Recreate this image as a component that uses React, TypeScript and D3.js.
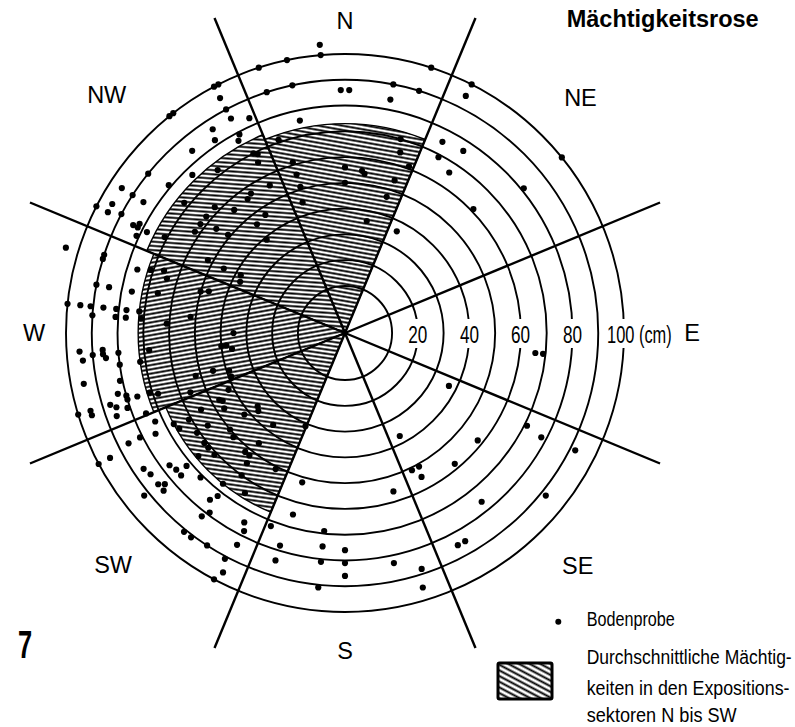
import React from 'react';
import * as d3 from 'd3';

// compass sectors and rings
const compassLabels = ['N', 'NE', 'E', 'SE', 'S', 'SW', 'W', 'NW'];
const ringValues = [10, 20, 30, 40, 50, 60, 70, 80, 90, 100];
const tickValues = [20, 40, 60, 80, 100];

// mean thickness (cm) in the exposition sectors N..SW
const meanSectors = ['N', 'NW', 'W', 'SW'];
const meanAzimuth = [0, 315, 270, 225];
const meanDepth = [73, 75, 72, 67];

// soil samples: azimuth (deg, clockwise from N) and thickness (cm)
const sampleAzimuth = [
  355, 355, 348, 342, 332, 333, 321, 322, 18, 342, 348, 359, 1, 11, 17, 11, 332, 332, 332, 336,
  327, 326, 332, 331, 348, 320, 309, 316, 310, 303, 297, 299, 297, 303, 303, 298, 297, 297, 297, 298,
  295, 287, 288, 287, 287, 281, 281, 281, 276, 276, 276, 274, 276, 276, 274, 276, 274, 276, 333, 334,
  333, 341, 343, 343, 0, 6, 7, 0, 17, 21, 18, 17, 11, 27, 343, 342, 333, 326, 322, 309,
  310, 307, 304, 314, 309, 318, 326, 321, 298, 298, 298, 299, 296, 288, 289, 287, 282, 287, 270, 276,
  273, 274, 286, 324, 310, 320, 16, 27, 27, 51, 27, 33, 28, 33, 51, 46, 96, 96, 117, 152,
  117, 118, 129, 117, 140, 154, 151, 152, 163, 141, 129, 180, 152, 150, 180, 168, 162, 180, 163, 266,
  264, 265, 266, 265, 264, 265, 262, 259, 258, 255, 254, 253, 253, 253, 252, 251, 253, 252, 250, 253,
  242, 242, 243, 243, 242, 236, 234, 231, 230, 229, 233, 231, 229, 231, 230, 225, 219, 217, 218, 218,
  219, 217, 213, 208, 207, 208, 207, 207, 208, 201, 197, 197, 196, 196, 186, 186, 186, 186, 264, 264,
  262, 265, 262, 253, 252, 249, 254, 252, 249, 241, 242, 238, 231, 230, 228, 218, 203, 242, 240, 241,
  236, 232, 230, 227, 230, 227, 218, 220, 218, 217, 230, 216, 207, 219, 212, 248, 245, 236, 242, 244,
  254,
];
const sampleDepth = [
  104, 100, 100, 100, 100, 100, 100, 100, 100, 90, 90, 86, 86, 90, 90, 84, 95, 90, 86, 83,
  86, 82, 79, 77, 76, 84, 90, 77, 81, 95, 100, 95, 95, 90, 85, 90, 84, 82, 78, 82,
  81, 105, 90, 90, 76, 90, 85, 76, 100, 95, 91, 90, 86, 81, 81, 77, 77, 72, 70, 69,
  66, 71, 61, 56, 56, 55, 54, 50, 65, 61, 54, 47, 36, 36, 51, 45, 56, 57, 72, 72,
  62, 62, 62, 62, 56, 56, 47, 46, 71, 52, 45, 38, 37, 71, 66, 64, 66, 47, 35, 52,
  61, 71, 50, 56, 51, 39, 70, 100, 95, 100, 75, 76, 69, 66, 81, 61, 66, 69, 37, 37,
  71, 78, 58, 92, 58, 51, 51, 55, 56, 76, 92, 76, 85, 85, 81, 83, 88, 86, 95, 95,
  94, 90, 86, 86, 85, 80, 80, 95, 81, 83, 80, 80, 76, 87, 85, 81, 95, 95, 86, 100,
  100, 95, 86, 81, 75, 86, 85, 85, 83, 85, 77, 76, 76, 92, 72, 71, 75, 79, 82, 72,
  91, 91, 90, 91, 96, 100, 84, 78, 75, 72, 78, 84, 65, 52, 69, 75, 81, 91, 40, 38,
  36, 68, 72, 71, 68, 56, 45, 39, 39, 46, 55, 47, 42, 36, 37, 37, 31, 67, 66, 61,
  56, 61, 61, 61, 50, 51, 46, 52, 52, 55, 66, 60, 51, 67, 65, 75, 73, 61, 47, 42,
  52,
];

const W = 795;
const H = 727;
const cx = 345;
const cy = 333;
const spokeLength = 341;
const font = '"Liberation Sans", Arial, sans-serif';

// label placement (px from centre) and hatch tilt per sector
const labelRadius: Record<string, number> = {
  N: 312, NE: 333, E: 347, SE: 329, S: 318, SW: 328, W: 311, NW: 337,
};
const hatchTilt: Record<string, number> = { N: 10, NW: 4, W: -10, SW: 8 };

const rad = (deg: number) => (deg * Math.PI) / 180;
const polar = (az: number, rr: number): [number, number] => [
  cx + rr * Math.sin(rad(az)),
  cy - rr * Math.cos(rad(az)),
];

// narrow (condensed) text, squeezed horizontally
const Narrow = ({ x, y, k, size, children, weight }: {
  x: number; y: number; k: number; size: number; children: React.ReactNode; weight?: string;
}) => (
  <text
    transform={`translate(${x},${y}) scale(${k},1)`}
    fontFamily={font}
    fontSize={size}
    fontWeight={weight}
    fill="#000"
  >
    {children}
  </text>
);

export default function App() {
  const r = d3.scaleLinear().domain([0, 100]).range([21.3, 279]);
  const arc = d3.arc<{ az: number; depth: number }>()
    .innerRadius(0)
    .outerRadius((d) => r(d.depth))
    .startAngle((d) => rad(d.az - 22.5))
    .endAngle((d) => rad(d.az + 22.5));

  const means = meanSectors.map((s, i) => ({ s, az: meanAzimuth[i], depth: meanDepth[i] }));
  const samples = sampleAzimuth.map((az, i) => ({ az, depth: sampleDepth[i] }));
  const spokes = d3.range(8).map((k) => 22.5 + k * 45);
  const labelWidths: Record<number, number> = { 20: 19, 40: 19, 60: 20, 80: 19, 100: 65 };

  return (
    <svg
      width={W}
      height={H}
      viewBox={`0 0 ${W} ${H}`}
      style={{ position: 'absolute', left: 0, top: 0, background: '#fff', display: 'block' }}
    >
      <defs>
        {meanSectors.map((s) => (
          <pattern
            key={s}
            id={`hatch-${s}`}
            width={4}
            height={4.2}
            patternUnits="userSpaceOnUse"
            patternTransform={`rotate(${hatchTilt[s]})`}
          >
            <rect width={4} height={4.2} fill="#fff" />
            <line x1={0} y1={2.1} x2={4} y2={2.1} stroke="#000" strokeWidth={1.9} />
          </pattern>
        ))}
        <pattern id="hatch-legend" width={8} height={5} patternUnits="userSpaceOnUse" patternTransform="rotate(28)">
          <rect width={8} height={5} fill="#fff" />
          <line x1={0} y1={2.5} x2={8} y2={2.5} stroke="#000" strokeWidth={2} />
        </pattern>
      </defs>
      <rect width={W} height={H} fill="#fff" />

      <g transform={`translate(${cx},${cy})`}>
        {means.map((d) => (
          <path key={d.s} d={arc(d) || ''} fill={`url(#hatch-${d.s})`} stroke="#000" strokeWidth={1.4} />
        ))}
        {ringValues.map((v) => (
          <circle key={v} r={r(v)} fill="none" stroke="#000" strokeWidth={1.9} />
        ))}
      </g>

      {spokes.map((az) => {
        const [x2, y2] = polar(az, spokeLength);
        return <line key={az} x1={cx} y1={cy} x2={x2} y2={y2} stroke="#000" strokeWidth={2.4} />;
      })}

      {samples.map((d, i) => {
        const [x, y] = polar(d.az, r(d.depth));
        return <circle key={i} cx={x} cy={y} r={3.1} fill="#000" />;
      })}

      {tickValues.map((v) => {
        const x = cx + r(v);
        const w = labelWidths[v];
        const x0 = v === 100 ? x - 17 : x - w / 2;
        return (
          <g key={v}>
            <rect x={x0 - 2} y={319} width={w + 4} height={29} fill="#fff" />
            <Narrow x={x0} y={342.7} k={v === 100 ? 0.67 : 0.7} size={24.5}>
              {v === 100 ? '100 (cm)' : String(v)}
            </Narrow>
          </g>
        );
      })}

      {compassLabels.map((lab, i) => {
        const [x, y] = polar(i * 45, labelRadius[lab]);
        return (
          <text key={lab} x={x} y={y} dy="0.36em" textAnchor="middle" fontFamily={font} fontSize={23.5} fill="#000">
            {lab}
          </text>
        );
      })}

      <text x={566.7} y={26.7} fontFamily={font} fontSize={23.5} fontWeight="bold" fill="#000">
        Mächtigkeitsrose
      </text>

      <Narrow x={18} y={658} k={0.67} size={38} weight="bold">7</Narrow>

      {/* legend */}
      <circle cx={558.3} cy={621.7} r={3} fill="#000" />
      <Narrow x={586.7} y={625.5} k={0.77} size={21}>Bodenprobe</Narrow>
      <rect x={498} y={663} width={54} height={36} fill="url(#hatch-legend)" stroke="#000" strokeWidth={3} rx={1.5} />
      <Narrow x={586.7} y={663.5} k={0.833} size={21}>Durchschnittliche Mächtig-</Narrow>
      <Narrow x={586.7} y={694.5} k={0.848} size={21}>keiten in den Expositions-</Narrow>
      <Narrow x={586.7} y={722} k={0.863} size={21}>sektoren N bis SW</Narrow>
    </svg>
  );
}
